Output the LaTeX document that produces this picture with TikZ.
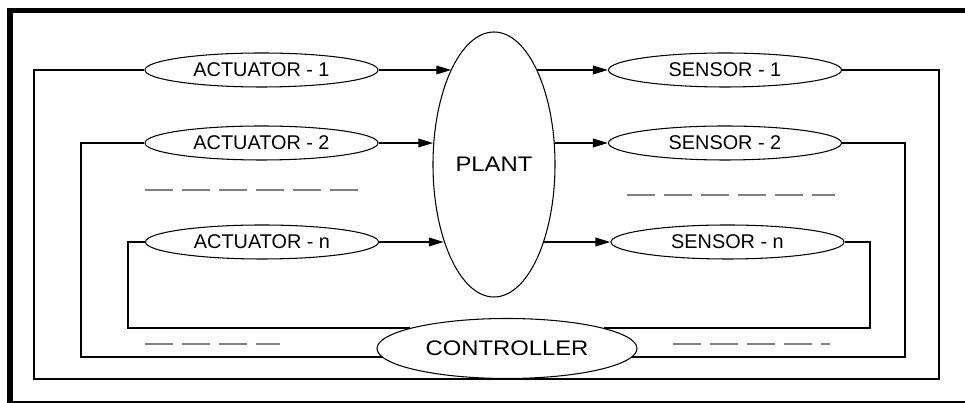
\documentclass[tikz,border=0pt]{standalone}
\usepackage{fontspec}
\setmainfont{Liberation Sans}
\newfontfamily\widesans{Liberation Sans}[FakeStretch=1.13]
\usetikzlibrary{arrows.meta,shapes.geometric}
\tikzset{
	block/.style={
			draw, ellipse, line width=0.6pt, inner sep=0pt,
			minimum width=4.66cm, minimum height=0.68cm,
			font=\fontsize{11.3}{13}\selectfont
		},
	bigblock/.style={
			draw, ellipse, line width=0.6pt, inner sep=0pt, fill=white,
			font=\widesans\fontsize{12}{14}\selectfont
		},
	wire/.style={line width=1.1pt},
	sig/.style={wire, -{Triangle[length=0.3cm, width=0.17cm]}},
	gap/.style={gray, line width=1.1pt, dash pattern=on 0.55cm off 0.19cm}
}

\begin{document}
\begin{tikzpicture}
        \useasboundingbox (0, 0) rectangle (19.3, 8.06);
        \draw [line width=0.11cm] (0.2, -0.02) rectangle (19.45, 7.85);

        \node [block] (act1) at (5.23, 6.66) {ACTUATOR - 1};
        \node [block] (act2) at (5.23, 5.20) {ACTUATOR - 2};
        \node [block] (actn) at (5.24, 3.22) {ACTUATOR - n};
        \node [block] (sen1) at (14.50, 6.66) {SENSOR - 1};
        \node [block] (sen2) at (14.50, 5.20) {SENSOR - 2};
        \node [block] (senn) at (14.55, 3.22) {SENSOR - n};
        \node [bigblock, minimum width=2.44cm, minimum height=5.3cm] (plant) at (9.88, 4.77) {PLANT};
        \node [bigblock, minimum width=5.2cm, minimum height=1.2cm] (ctrl) at (10.14, 1.09) {CONTROLLER};

        % into and out of the plant
        \draw [sig] (act1.east) -- (act1.east -| plant.114);
        \draw [sig] (act2.east) -- (act2.east -| plant.160);
        \draw [sig] (actn.east) -- (actn.east -| plant.237);
        \draw [sig] (sen1.west -| plant.66) -- (sen1.west);
        \draw [sig] (sen2.west -| plant.20) -- (sen2.west);
        \draw [sig] (senn.west -| plant.303) -- (senn.west);

        % feedback loops through the controller
        \coordinate (l1) at (0.68, 0);
        \coordinate (l2) at (1.62, 0);
        \coordinate (l3) at (2.56, 0);
        \coordinate (r1) at (18.78, 0);
        \coordinate (r2) at (18.10, 0);
        \coordinate (r3) at (17.40, 0);
        \draw [wire] (act1.west) -| (l1 |- ctrl.south) -- (ctrl.south) -| (r1 |- sen1.east) -- (sen1.east);
        \draw [wire] (act2.west) -| (l2 |- ctrl.184) -- (ctrl.184);
        \draw [wire] (ctrl.356) -- (r2 |- ctrl.356) |- (sen2.east);
        \draw [wire] (actn.west) -| (l3 |- ctrl.168) -- (ctrl.168);
        \draw [wire] (ctrl.12) -- (r3 |- ctrl.12) |- (senn.east);

        \draw [gap] (2.90, 4.26) -- (7.26, 4.26);
        \draw [gap] (12.54, 4.16) -- (16.70, 4.16);
        \draw [gap] (2.90, 1.18) -- (5.60, 1.18);
        \draw [gap] (13.46, 1.18) -- (16.60, 1.18);
    \end{tikzpicture}
\end{document}
